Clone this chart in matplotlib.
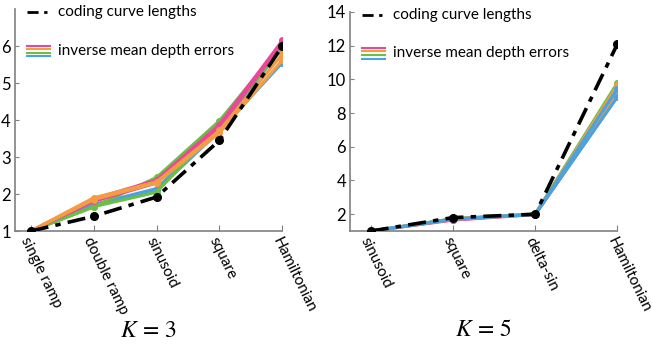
import matplotlib.pyplot as plt

plt.rcParams['font.family'] = ['Lato', 'DejaVu Sans']
plt.rcParams['mathtext.fontset'] = 'stix'

# ================================
# Data
# ================================
cats_k3 = ["single ramp", "double ramp", "sinusoid", "square", "Hamiltonian"]
coding_k3 = [1.0, 1.40, 1.92, 3.45, 6.00]
errors_k3 = {
    "blue_a":   [1.0, 1.72, 2.15, 3.78, 5.95],
    "blue_b":   [1.0, 1.68, 2.10, 3.70, 5.55],
    "green_a":  [1.0, 1.65, 2.45, 3.98, 6.05],
    "green_b":  [1.0, 1.66, 2.05, 3.85, 5.95],
    "pink_a":   [1.0, 1.87, 2.38, 3.88, 6.15],
    "pink_b":   [1.0, 1.80, 2.30, 3.80, 6.08],
    "orange_a": [1.0, 1.90, 2.33, 3.72, 5.78],
    "orange_b": [1.0, 1.85, 2.30, 3.65, 5.62],
}

cats_k5 = ["sinusoid", "square", "delta-sin", "Hamiltonian"]
coding_k5 = [1.0, 1.80, 2.00, 12.10]
errors_k5 = {
    "pink_a":   [1.0, 1.65, 1.98, 9.00],
    "pink_b":   [1.0, 1.68, 1.99, 9.10],
    "green_a":  [1.0, 1.74, 2.02, 9.80],
    "green_b":  [1.0, 1.70, 2.00, 9.55],
    "orange_a": [1.0, 1.72, 2.00, 9.65],
    "orange_b": [1.0, 1.70, 2.00, 9.20],
    "blue_a":   [1.0, 1.72, 2.00, 9.45],
    "blue_b":   [1.0, 1.70, 1.99, 8.95],
}

colors = {"pink": "#E8479A", "orange": "#F39C44", "green": "#6BBF45", "blue": "#4AA3DF"}


def draw_panel(ax, cats, coding, errors, ylim, yticks, caption):
    x = list(range(len(cats)))
    for name, vals in errors.items():
        c = colors[name.split("_")[0]]
        ax.plot(x, vals, color=c, lw=2.2, marker="o", ms=4, zorder=2)
    ax.plot(x, coding, color="black", lw=2.6, ls=(0, (5, 2, 1.5, 2)),
            marker="o", ms=5.5, zorder=3)

    ax.set_xlim(-0.25, len(cats) - 1)
    ax.set_ylim(*ylim)
    ax.set_yticks(yticks)
    ax.set_xticks(x)
    ax.set_xticklabels(cats, rotation=-64, ha="left", va="top",
                       rotation_mode="anchor", fontsize=11)
    ax.tick_params(axis="y", direction="in", length=3, labelsize=12,
                   color="#808080", pad=3)
    ax.tick_params(axis="x", direction="in", length=4, color="#808080", pad=3)
    for s in ["top", "right"]:
        ax.spines[s].set_visible(False)
    for s in ["left", "bottom"]:
        ax.spines[s].set_color("#808080")
        ax.spines[s].set_linewidth(1.2)

    # legend drawn by hand
    tr = ax.transAxes
    ax.plot([0.045, 0.13], [0.985, 0.985], transform=tr, color="black", lw=2,
            ls=(0, (4, 2, 1.2, 2)), clip_on=False)
    ax.text(0.16, 0.985, "coding curve lengths", transform=tr, fontsize=11,
            va="center", ha="left")
    for i, c in enumerate(colors.values()):
        ax.plot([0.045, 0.13], [0.835 - i * 0.016] * 2, transform=tr, color=c,
                lw=1.5, clip_on=False)
    ax.text(0.16, 0.81, "inverse mean depth errors", transform=tr, fontsize=11,
            va="center", ha="left")

    ax.text(0.5, -0.4, caption, transform=tr, fontsize=17, ha="center",
            va="top")


fig = plt.figure(figsize=(6.52, 3.47), dpi=100)
ax1 = fig.add_axes([0.023, 0.334, 0.41, 0.64])
ax2 = fig.add_axes([0.537, 0.334, 0.41, 0.632])

draw_panel(ax1, cats_k3, coding_k3, errors_k3, (1, 7), [1, 2, 3, 4, 5, 6],
           r"$K\,=\,3$")
draw_panel(ax2, cats_k5, coding_k5, errors_k5, (1, 14), [2, 4, 6, 8, 10, 12, 14],
           r"$K\,=\,5$")

fig.savefig("out.png", dpi=100)
